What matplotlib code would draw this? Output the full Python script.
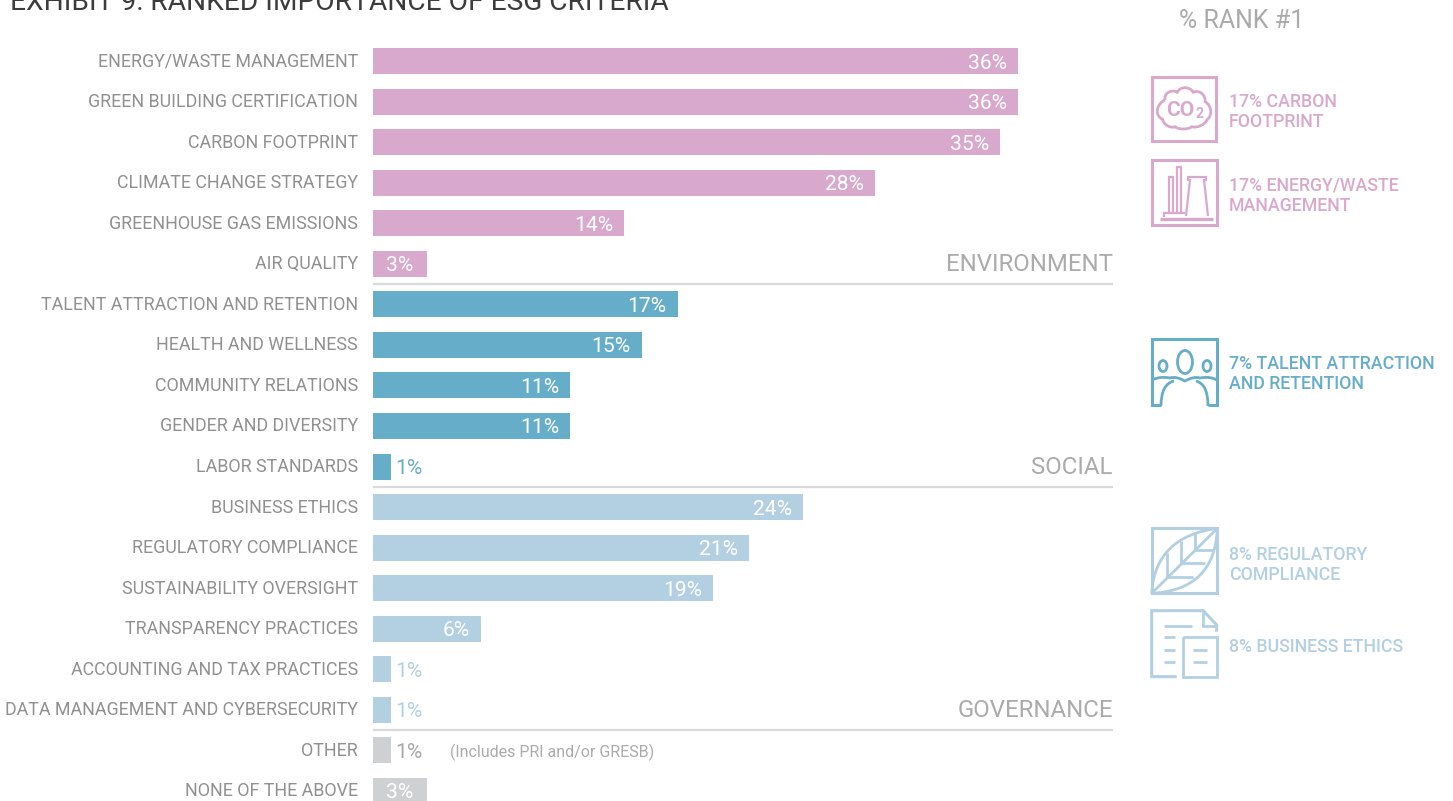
#!/usr/bin/env python3
"""Ranked importance of ESG criteria: horizontal bars grouped by pillar, with icon callouts."""
import matplotlib
matplotlib.use("Agg")
import matplotlib.pyplot as plt
from matplotlib.patches import Ellipse, PathPatch, Rectangle
from matplotlib.path import Path

W, H = 1453, 801
FONT = "Roboto"

PINK = "#D8A9CD"
TEAL = "#66ADC9"
PALE = "#B2D0E2"
GREY = "#CFD0D2"
LABEL = "#909090"
SECTION = "#ABABAB"
RULE = "#D9D9D9"

categories = [
    "ENERGY/WASTE MANAGEMENT", "GREEN BUILDING CERTIFICATION", "CARBON FOOTPRINT",
    "CLIMATE CHANGE STRATEGY", "GREENHOUSE GAS EMISSIONS", "AIR QUALITY",
    "TALENT ATTRACTION AND RETENTION", "HEALTH AND WELLNESS", "COMMUNITY RELATIONS",
    "GENDER AND DIVERSITY", "LABOR STANDARDS",
    "BUSINESS ETHICS", "REGULATORY COMPLIANCE", "SUSTAINABILITY OVERSIGHT",
    "TRANSPARENCY PRACTICES", "ACCOUNTING AND TAX PRACTICES",
    "DATA MANAGEMENT AND CYBERSECURITY",
    "OTHER", "NONE OF THE ABOVE",
]
values = [36, 36, 35, 28, 14, 3, 17, 15, 11, 11, 1, 24, 21, 19, 6, 1, 1, 1, 3]
group_colors = [PINK] * 6 + [TEAL] * 5 + [PALE] * 6 + [GREY] * 2

sections = ["ENVIRONMENT", "SOCIAL", "GOVERNANCE"]
section_last = [5, 10, 16]

callouts = [
    (["17% CARBON", "FOOTPRINT"], PINK, 102),
    (["17% ENERGY/WASTE", "MANAGEMENT"], PINK, 186),
    (["7% TALENT ATTRACTION", "AND RETENTION"], TEAL, 364),
    (["8% REGULATORY", "COMPLIANCE"], PALE, 555),
    (["8% BUSINESS ETHICS"], PALE, 647),
]

PX_PER_PCT = 17.92
ROW = 40.55
BAR_X0, ROW_Y0 = 373, 61


def pt(px):
    # font sizes below are given in pixels
    return px * 0.72


def frame(ov, x0, y0, x1, y1, color):
    # edges given as outer bounds; the 3 px stroke sits inside them
    ov.add_patch(Rectangle((x0 + 1.5, y0 + 1.5), x1 - x0 - 3, y1 - y0 - 3, fill=False, ec=color, lw=2.2,
                           joinstyle="miter"))


def poly(ov, pts, color, lw=2.0, closed=False):
    if closed:
        pts = list(pts) + [pts[0]]
    ov.plot([p[0] for p in pts], [p[1] for p in pts], color=color, lw=lw, solid_capstyle="butt", solid_joinstyle="miter")


def curve(ov, verts, color, lw=2.0):
    # verts alternates anchor, control, anchor, ... for quadratic segments
    codes = [Path.MOVETO] + [Path.CURVE3] * (len(verts) - 1)
    ov.add_patch(PathPatch(Path(verts, codes), fill=False, ec=color, lw=lw))


def icon_cloud(ov, color):
    frame(ov, 1150, 75, 1217, 142, color)
    z = lambda x, y: (1140 + x / 3, 60 + y / 3)
    valleys = [(75, 120), (112, 97), (160, 97), (195, 125), (200, 180), (155, 200), (105, 200), (68, 178)]
    tops = [(85, 97), (135, 83), (185, 100), (212, 152), (182, 197), (130, 207), (82, 197), (52, 150)]
    # each lobe is one cubic that bulges through its top point
    verts = [z(*valleys[0])]
    codes = [Path.MOVETO]
    k = 0.3
    for i, top in enumerate(tops):
        a = valleys[i]
        b = valleys[(i + 1) % len(valleys)]
        cx = (top[0] - (a[0] + b[0]) / 8) / 0.75
        cy = (top[1] - (a[1] + b[1]) / 8) / 0.75
        verts += [z(cx + k * (a[0] - b[0]), cy + k * (a[1] - b[1])),
                  z(cx + k * (b[0] - a[0]), cy + k * (b[1] - a[1])), z(*b)]
        codes += [Path.CURVE4] * 3
    ov.add_patch(PathPatch(Path(verts, codes), fill=False, ec=color, lw=2.0))
    ov.text(1180, 110.5, "CO", color=color, fontsize=pt(21), fontweight="bold", family=FONT, ha="center", va="center")
    ov.text(1199.5, 114, "2", color=color, fontsize=pt(14), fontweight="bold", family=FONT, ha="center", va="center")


def icon_factory(ov, color):
    frame(ov, 1150, 158, 1218, 226, color)
    poly(ov, [(1168.5, 212), (1168.5, 176.5), (1172.5, 176.5), (1172.5, 212)], color, lw=1.6)
    poly(ov, [(1176.5, 212), (1176.5, 166.5), (1180.5, 166.5), (1180.5, 212)], color, lw=1.6)
    poly(ov, [(1186, 216), (1190, 180), (1188, 180), (1188, 177), (1206, 177), (1206, 180), (1204, 180), (1208, 216)],
         color, lw=1.6)
    poly(ov, [(1163.5, 217), (1163.5, 213), (1185, 213)], color, lw=1.6)
    poly(ov, [(1160, 218.5), (1213, 218.5)], color, lw=2.4)


def icon_people(ov, color):
    poly(ov, [(1161, 405), (1151.5, 405), (1151.5, 339), (1216.5, 339), (1216.5, 405), (1208, 405)],
         color, lw=2.2)
    ov.add_patch(Ellipse((1185, 362), 15, 23, fill=False, ec=color, lw=2))
    ov.add_patch(Ellipse((1163, 366), 8, 11, fill=False, ec=color, lw=2))
    ov.add_patch(Ellipse((1207, 366), 8, 11, fill=False, ec=color, lw=2))
    curve(ov, [(1152, 380), (1160, 376), (1170, 378), (1176, 376), (1185, 381), (1194, 376), (1200, 378),
               (1210, 376), (1217, 380)], color)
    curve(ov, [(1161, 406), (1161, 384), (1174, 381)], color)
    curve(ov, [(1208, 406), (1208, 384), (1196, 381)], color)


def icon_leaf(ov, color):
    z = lambda x, y: (1140 + x / 3, 520 + y / 3)
    frame(ov, 1150, 526, 1218, 594, color)
    curve(ov, [z(35, 220), z(45, 50), z(232, 25)], color)
    curve(ov, [z(35, 220), z(225, 210), z(232, 25)], color)
    poly(ov, [z(35, 220), z(232, 25)], color)
    for a, b in [((82, 172), (82, 100)), ((123, 130), (123, 62)), ((165, 90), (165, 38)),
                 ((82, 172), (160, 172)), ((123, 130), (195, 130)), ((165, 90), (220, 90))]:
        poly(ov, [z(*a), z(*b)], color)


def icon_doc(ov, color):
    z = lambda x, y: (1140 + x / 3, 520 + y / 3)
    poly(ov, [z(110, 470), z(35, 470), z(35, 272), z(190, 272), z(230, 315), z(230, 335)], color, lw=2.2)
    poly(ov, [z(190, 272), z(190, 318), z(230, 318)], color)
    poly(ov, [z(130, 352), z(230, 352), z(230, 470), z(130, 470)], color, closed=True)
    for a, b in [((72, 318), (155, 318)), ((72, 352), (105, 352)), ((72, 390), (105, 390)),
                 ((72, 427), (105, 427)), ((158, 390), (200, 390)), ((158, 427), (200, 427))]:
        poly(ov, [z(*a), z(*b)], color)


fig = plt.figure(figsize=(W / 100, H / 100), dpi=100, facecolor="white")

ax = fig.add_axes([0, 0, 1, 1])
ax.set_xlim(-BAR_X0 / PX_PER_PCT, (W - BAR_X0) / PX_PER_PCT)
ax.set_ylim((H - ROW_Y0) / ROW, -ROW_Y0 / ROW)
ax.axis("off")

rows = list(range(len(categories)))
ax.barh(rows, values, height=26 / ROW, color=group_colors, linewidth=0)

for i, (name, v, c) in enumerate(zip(categories, values, group_colors)):
    ax.annotate(name, (0, i), xytext=(-15, -0.5), textcoords="offset pixels", ha="right", va="center",
                color=LABEL, fontsize=pt(17.85), family=FONT)
    label = f"{v}%"
    if v == 1:
        col = "#A8A8A8" if c == GREY else c
        ax.annotate(label, (v, i), xytext=(4, -2), textcoords="offset pixels", ha="left", va="center",
                    color=col, fontsize=pt(21), family=FONT)
    elif v == 3:
        ax.annotate(label, (v / 2, i), xytext=(0, -2), textcoords="offset pixels", ha="center", va="center",
                    color="white", fontsize=pt(21), family=FONT)
    else:
        ax.annotate(label, (v, i), xytext=(-11, -2), textcoords="offset pixels", ha="right", va="center",
                    color="white", fontsize=pt(21), family=FONT)

# section rules and pillar names
rule_end = (1113 - BAR_X0) / PX_PER_PCT
for name, last in zip(sections, section_last):
    ax.plot([0, rule_end], [last + 0.5, last + 0.5], color=RULE, lw=1.6, solid_capstyle="butt")
    ax.annotate(name, (rule_end, last), xytext=(0, -1), textcoords="offset pixels", ha="right", va="center",
                color=SECTION, fontsize=pt(24), family=FONT)

ax.annotate("(Includes PRI and/or GRESB)", (0, 17), xytext=(77, -2), textcoords="offset pixels", ha="left",
            va="center", color="#ABABAB", fontsize=pt(16), family=FONT)

# overlay in pixel coordinates for the title, callouts and icons
ov = fig.add_axes([0, 0, 1, 1])
ov.set_xlim(0, W)
ov.set_ylim(H, 0)
ov.axis("off")
ov.patch.set_alpha(0)

ov.text(10, 10, "EXHIBIT 9: RANKED IMPORTANCE OF ESG CRITERIA", color="#3C3C3C", fontsize=pt(28.1),
        family=FONT, ha="left", va="baseline")
ov.text(1179, 21, "% RANK #1", color=SECTION, fontsize=pt(25), family=FONT, ha="left", va="center")

for lines, color, y in callouts:
    for j, line in enumerate(lines):
        ov.text(1229, y + 20 * j, line, color=color, fontsize=pt(17.8), fontweight="medium", family=FONT,
                ha="left", va="center")

icon_cloud(ov, PINK)
icon_factory(ov, PINK)
icon_people(ov, TEAL)
icon_leaf(ov, PALE)
icon_doc(ov, PALE)

fig.savefig("out.png", dpi=100)
